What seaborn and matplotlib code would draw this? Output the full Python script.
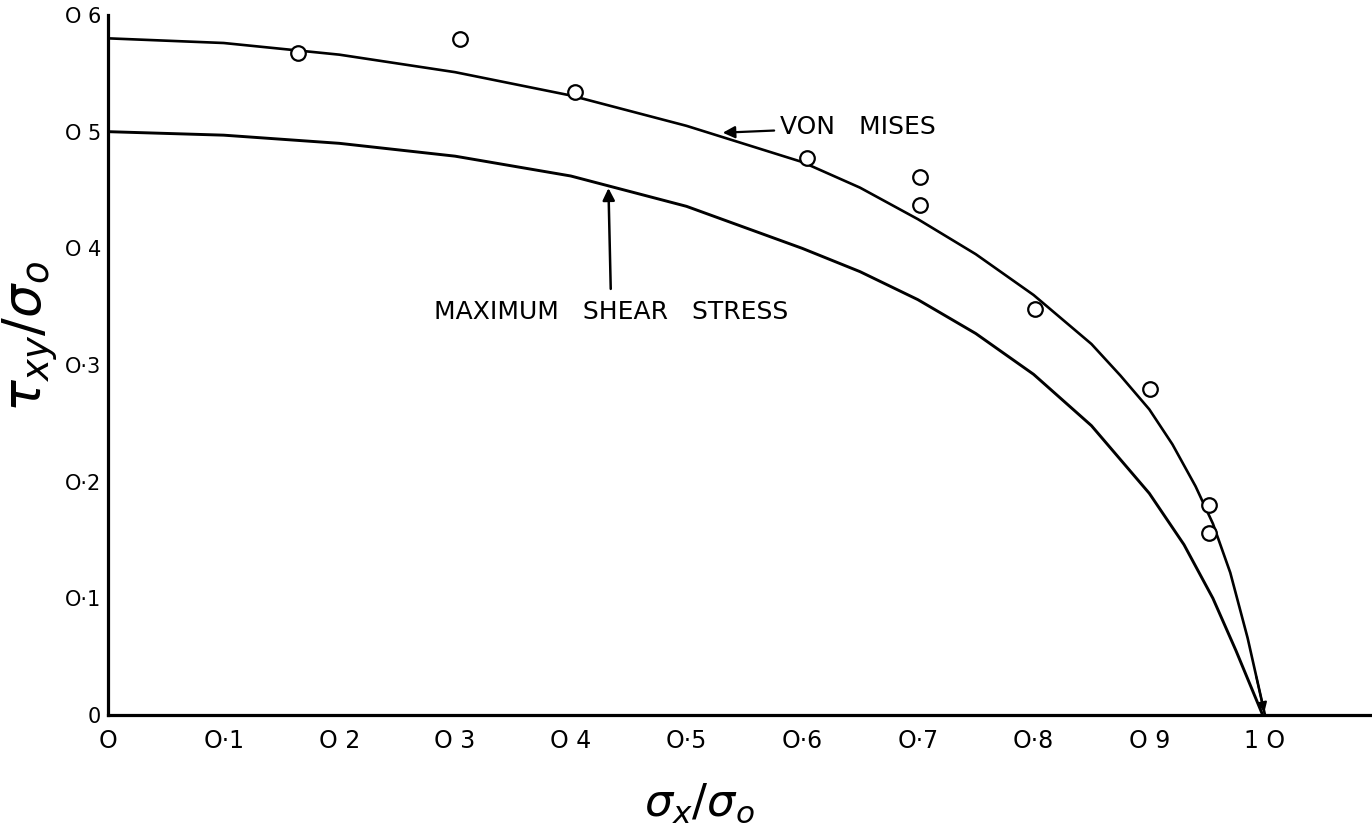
import numpy as np
import matplotlib
matplotlib.use("Agg")
import matplotlib.pyplot as plt
import seaborn as sns

# values
vm_x = [0.0, 0.1, 0.2, 0.3, 0.4, 0.5, 0.6, 0.65, 0.7, 0.75, 0.8, 0.85, 0.875,
        0.9, 0.92, 0.94, 0.955, 0.97, 0.985, 1.0]
vm_y = [0.580, 0.576, 0.566, 0.551, 0.531, 0.505, 0.474, 0.452, 0.425, 0.395,
        0.360, 0.318, 0.291, 0.262, 0.232, 0.196, 0.164, 0.122, 0.066, 0.0]

ms_x = [0.0, 0.1, 0.2, 0.3, 0.4, 0.5, 0.6, 0.65, 0.7, 0.75, 0.8, 0.85, 0.9,
        0.93, 0.955, 0.975, 0.998]
ms_y = [0.500, 0.497, 0.490, 0.479, 0.462, 0.436, 0.400, 0.380, 0.356, 0.327,
        0.292, 0.248, 0.190, 0.146, 0.100, 0.055, 0.0]

test_x = [0.164, 0.304, 0.404, 0.604, 0.702, 0.702, 0.801, 0.901, 0.952, 0.952]
test_y = [0.567, 0.579, 0.534, 0.477, 0.461, 0.437, 0.348, 0.279, 0.180, 0.156]

xticks = [0.0, 0.1, 0.2, 0.3, 0.4, 0.5, 0.6, 0.7, 0.8, 0.9, 1.0]
xtick_labels = ["O", "O·1", "O 2", "O 3", "O 4", "O·5", "O·6", "O·7", "O·8", "O 9", "1 O"]
yticks = [0.0, 0.1, 0.2, 0.3, 0.4, 0.5, 0.6]
ytick_labels = ["0", "O·1", "O·2", "O·3", "O 4", "O 5", "O 6"]

sns.set_theme(style="white")
plt.rcParams["font.family"] = ["DejaVu Sans"]
plt.rcParams["mathtext.fontset"] = "dejavusans"
plt.rcParams["text.color"] = "black"
plt.rcParams["xtick.color"] = "black"
plt.rcParams["ytick.color"] = "black"
plt.rcParams["axes.labelcolor"] = "black"

fig = plt.figure(figsize=(13.72, 8.38), dpi=100)
ax = fig.add_axes([0.0787, 0.1468, 0.9213, 0.8353])

sns.lineplot(x=vm_x, y=vm_y, sort=False, estimator=None, color="black", lw=1.9, ax=ax)
sns.lineplot(x=ms_x, y=ms_y, sort=False, estimator=None, color="black", lw=2.1, ax=ax)
sns.scatterplot(x=test_x, y=test_y, marker="o", s=110, facecolor="white",
                edgecolor="black", linewidth=1.6, zorder=5, ax=ax)

ax.set_xlim(0, 1.0925)
ax.set_ylim(0, 0.6)
for side in ["top", "right"]:
    ax.spines[side].set_visible(False)
for side in ["left", "bottom"]:
    ax.spines[side].set_linewidth(2.3)
    ax.spines[side].set_color("black")

ax.set_xticks(xticks)
ax.set_xticklabels(xtick_labels, fontsize=17)
ax.set_yticks(yticks)
ax.set_yticklabels(ytick_labels, fontsize=15)
ax.tick_params(axis="both", direction="in", length=8, width=1.6, color="black")
ax.tick_params(axis="x", pad=10)
ax.tick_params(axis="y", pad=5)

ax.set_xlabel(r"$\sigma_x/\sigma_o$", fontsize=32)
ax.xaxis.set_label_coords(0.468, -0.095)
ax.set_ylabel(r"$\tau_{xy}/\sigma_o$", fontsize=38)
ax.yaxis.set_label_coords(-0.037, 0.54)

# annotations
ax.annotate("VON   MISES", xy=(0.529, 0.499), xytext=(0.581, 0.504),
            fontsize=18, va="center", ha="left",
            arrowprops=dict(arrowstyle="-|>", color="black", lw=1.6, mutation_scale=18))
ax.annotate("MAXIMUM   SHEAR   STRESS", xy=(0.4325, 0.454), xytext=(0.435, 0.345),
            fontsize=18, va="center", ha="center",
            arrowprops=dict(arrowstyle="-|>", color="black", lw=1.8, mutation_scale=18,
                            shrinkA=6))
ax.annotate("", xy=(1.0, 0.0), xytext=(0.992, 0.035),
            arrowprops=dict(arrowstyle="-|>", color="black", lw=1.5, mutation_scale=14))

fig.savefig("out.png", dpi=100)
